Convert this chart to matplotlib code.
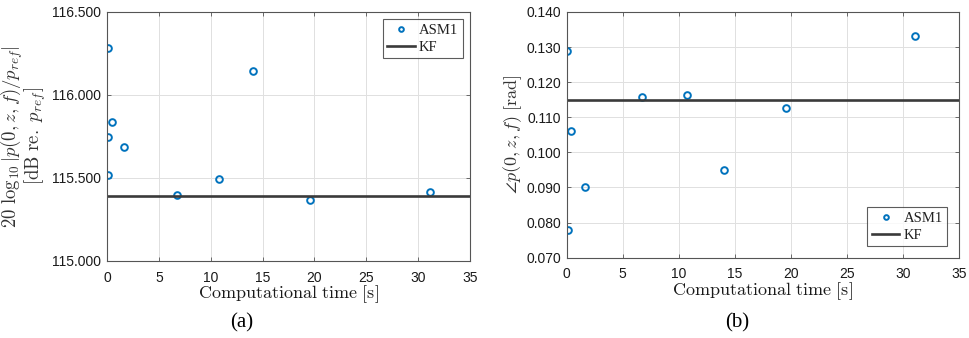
import matplotlib
matplotlib.use("Agg")
import matplotlib.pyplot as plt
from matplotlib.ticker import FormatStrFormatter, MultipleLocator

plt.rcParams['mathtext.fontset'] = 'cm'
plt.rcParams['font.family'] = ['Liberation Sans', 'DejaVu Sans']

# Panel (a): magnitude
time_a = [0.13, 0.45, 0.10, 1.67, 0.06, 6.79, 10.81, 14.06, 19.56, 31.10]
mag_asm1 = [116.285, 115.837, 115.747, 115.689, 115.516, 115.398, 115.496, 116.145, 115.367, 115.416]
mag_kf = 115.392

# Panel (b): phase
time_b = [0.06, 0.36, 1.60, 0.09, 6.74, 10.76, 13.99, 19.52, 31.05]
phase_asm1 = [0.1289, 0.1060, 0.0900, 0.0778, 0.1158, 0.1163, 0.0950, 0.1126, 0.1332]
phase_kf = 0.1148

blue = '#0072BD'
kf_col = '#3a3a3a'
axcol = '#555555'

fig = plt.figure(figsize=(9.69, 3.38), dpi=100)
ax1 = fig.add_axes([0.1104, 0.228, 0.3746, 0.7367])
ax2 = fig.add_axes([0.5848, 0.2376, 0.405, 0.727])


def style(ax):
    for s in ax.spines.values():
        s.set_color(axcol)
        s.set_linewidth(0.8)
    ax.tick_params(direction='in', length=3, width=0.6, colors=axcol,
                   labelsize=10, top=True, right=True, labeltop=False, labelright=False)
    ax.tick_params(axis='x', pad=7)
    ax.tick_params(axis='y', pad=4)
    ax.grid(True, color='#e0e0e0', linewidth=0.7)
    ax.set_axisbelow(True)
    ax.set_xlim(0, 35)
    ax.xaxis.set_major_locator(MultipleLocator(5))
    for lab in ax.get_xticklabels() + ax.get_yticklabels():
        lab.set_color('#1a1a1a')


def legend(ax, loc, pad):
    leg = ax.legend(loc=loc, prop={'size': 10.5}, frameon=True,
                    fancybox=False, edgecolor='#333333', handlelength=1.9, handletextpad=0.3,
                    borderpad=0.3, labelspacing=0.25, markerscale=0.7, borderaxespad=pad)
    leg.get_frame().set_linewidth(0.8)
    for t in leg.get_texts():
        t.set_family(['Liberation Serif', 'DejaVu Serif'])
        t.set_color('#222222')
    return leg


ax1.plot(time_a, mag_asm1, linestyle='none', marker='o', markersize=4.8,
         markerfacecolor='none', markeredgecolor=blue, markeredgewidth=1.4, label='ASM1')
ax1.axhline(mag_kf, color=kf_col, linewidth=1.9, label='KF')
ax1.set_ylim(115.0, 116.5)
ax1.yaxis.set_major_locator(MultipleLocator(0.5))
ax1.yaxis.set_major_formatter(FormatStrFormatter('%.3f'))
style(ax1)
ax1.set_xlabel(r'$\mathrm{Computational\ time\ [s]}$', fontsize=13, labelpad=-1, color='#1a1a1a')
ax1.set_ylabel(r'$20\ \log_{10}|p(0,z,f)/p_{ref}|$' + '\n' + r'$[\mathrm{dB\ re.}\ p_{ref}]$',
               fontsize=13.5, labelpad=3, color='#333333', linespacing=0.85)
legend(ax1, 'upper right', 0.5)

ax2.plot(time_b, phase_asm1, linestyle='none', marker='o', markersize=4.8,
         markerfacecolor='none', markeredgecolor=blue, markeredgewidth=1.4, label='ASM1')
ax2.axhline(phase_kf, color=kf_col, linewidth=1.9, label='KF')
ax2.set_ylim(0.070, 0.140)
ax2.yaxis.set_major_locator(MultipleLocator(0.01))
ax2.yaxis.set_major_formatter(FormatStrFormatter('%.3f'))
style(ax2)
ax2.set_xlabel(r'$\mathrm{Computational\ time\ [s]}$', fontsize=13, labelpad=-1, color='#1a1a1a')
ax2.set_ylabel(r'$\angle p(0,z,f)\ [\mathrm{rad}]$', fontsize=13, labelpad=2, color='#333333')
legend(ax2, 'lower right', 0.8)

fig.text(242 / 969, 1 - 323 / 338, '(a)', ha='center', va='center',
         fontsize=15, family=['Liberation Serif', 'DejaVu Serif'])
fig.text(737 / 969, 1 - 323 / 338, '(b)', ha='center', va='center',
         fontsize=15, family=['Liberation Serif', 'DejaVu Serif'])

fig.savefig('out.png', dpi=100)
